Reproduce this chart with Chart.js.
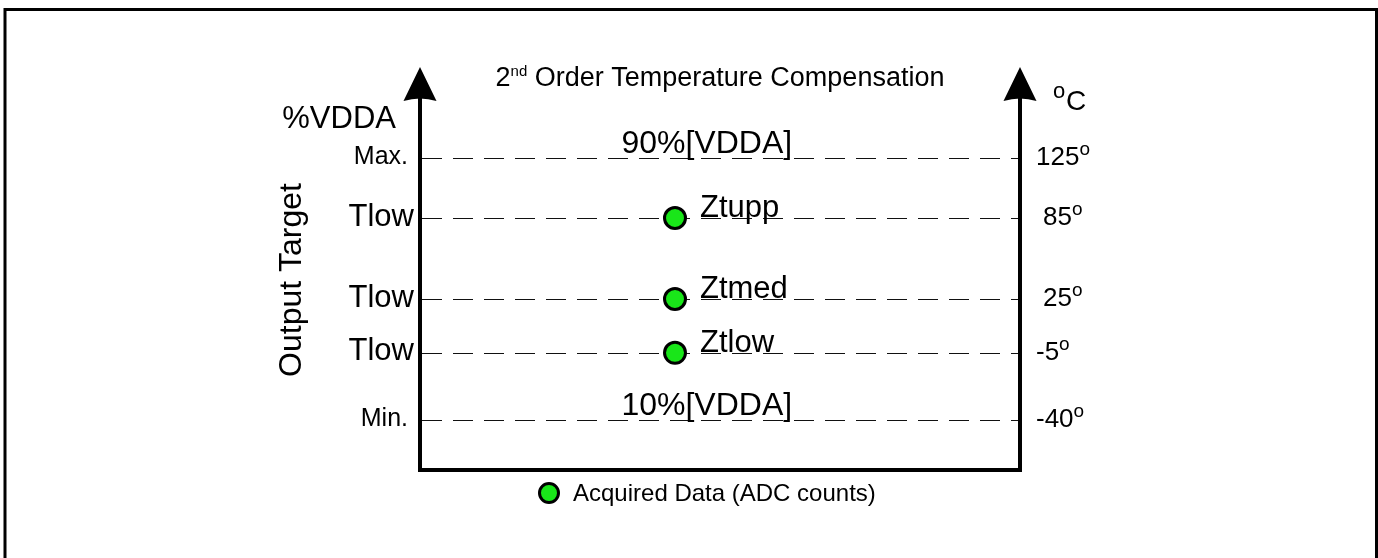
<!DOCTYPE html>
<html>
<head>
<meta charset="utf-8">
<script src="https://cdn.jsdelivr.net/npm/chart.js@4"></script>
<style>
  html, body { margin: 0; padding: 0; background: #fff; }
  #wrap { width: 1378px; height: 558px; }
</style>
</head>
<body>
<div id="wrap"><canvas id="chart" width="1378" height="558"></canvas></div>
<script>
// levels on the output axis, bottom to top
const levelNames = ['Min.', 'Tlow', 'Tlow', 'Tlow', 'Max.'];
const tempLabels = ['-40', '-5', '25', '85', '125'];
const levelValues = [12.5, 29.3, 42.75, 63, 78];   // % of axis height

// acquired data points
const pointNames = ['Ztlow', 'Ztmed', 'Ztupp'];
const pointX = [42.5, 42.5, 42.5];
const pointY = [29.3, 42.75, 63];

// VDDA range labels
const rangeLabels = ['10%[VDDA]', '90%[VDDA]'];
const rangeY = [12.5, 78];
const rangeX = 47.8;

const FONT = '"Liberation Sans", Arial, Helvetica, sans-serif';
const GREEN = '#19e619';

function font(size) {
    return size + 'px ' + FONT;
}

// draws the axes, arrows, dashed levels and all text of the diagram
const diagram = {
    id: 'diagram',
    beforeDatasetsDraw(chart) {
        const ctx = chart.ctx;
        const { left, right, top, bottom } = chart.chartArea;
        const y = chart.scales.y;
        ctx.save();
        ctx.strokeStyle = '#000';
        ctx.fillStyle = '#000';

        // outer frame (no bottom edge)
        ctx.lineWidth = 3;
        ctx.beginPath();
        ctx.moveTo(5, 558);
        ctx.lineTo(5, 9.5);
        ctx.lineTo(1376.5, 9.5);
        ctx.lineTo(1376.5, 558);
        ctx.stroke();

        // dashed level lines
        ctx.lineWidth = 1.2;
        ctx.strokeStyle = '#111';
        ctx.setLineDash([20, 11]);
        levelValues.forEach(v => {
            const py = Math.round(y.getPixelForValue(v)) + 0.5;
            ctx.beginPath();
            ctx.moveTo(left + 2, py);
            ctx.lineTo(right - 2, py);
            ctx.stroke();
        });
        ctx.setLineDash([]);

        // axes
        ctx.strokeStyle = '#000';
        ctx.lineWidth = 4;
        ctx.lineJoin = 'miter';
        ctx.beginPath();
        ctx.moveTo(left, top + 25);
        ctx.lineTo(left, bottom);
        ctx.lineTo(right, bottom);
        ctx.lineTo(right, top + 25);
        ctx.stroke();

        // arrow heads
        [left, right].forEach(ax => {
            ctx.beginPath();
            ctx.moveTo(ax, top - 3);
            ctx.lineTo(ax - 16.5, top + 31);
            ctx.quadraticCurveTo(ax, top + 26, ax + 16.5, top + 31);
            ctx.closePath();
            ctx.fill();
        });
        ctx.restore();
    },
    afterDraw(chart) {
        const ctx = chart.ctx;
        const { left, right, top, bottom } = chart.chartArea;
        const x = chart.scales.x;
        const y = chart.scales.y;
        ctx.save();
        ctx.fillStyle = '#000';

        // title with superscript
        ctx.textBaseline = 'alphabetic';
        ctx.textAlign = 'left';
        ctx.font = font(27);
        const t1 = '2', t3 = ' Order Temperature Compensation';
        const w1 = ctx.measureText(t1).width;
        const w3 = ctx.measureText(t3).width;
        ctx.font = font(15);
        const w2 = ctx.measureText('nd').width;
        let tx = 720 - (w1 + w2 + w3) / 2;
        ctx.font = font(27);
        ctx.fillText(t1, tx, 86);
        ctx.font = font(15);
        ctx.fillText('nd', tx + w1, 76);
        ctx.font = font(27);
        ctx.fillText(t3, tx + w1 + w2, 86);

        // left axis labels
        ctx.textAlign = 'right';
        ctx.textBaseline = 'middle';
        ctx.font = font(31);
        ctx.fillText('%VDDA', 396, 119);
        levelValues.forEach((v, i) => {
            const py = y.getPixelForValue(v);
            const name = levelNames[i];
            if (name === 'Tlow') {
                ctx.font = font(31);
                ctx.fillText(name, left - 6, py - 1);
            } else {
                ctx.font = font(25);
                ctx.fillText(name, left - 12, py - 1);
            }
        });

        // rotated axis title
        ctx.save();
        ctx.translate(292, 280);
        ctx.rotate(-Math.PI / 2);
        ctx.textAlign = 'center';
        ctx.font = font(32);
        ctx.fillText('Output Target', 0, 0);
        ctx.restore();

        // right axis labels (degrees), two-digit ones sit a bit further in
        ctx.textAlign = 'left';
        levelValues.forEach((v, i) => {
            const py = y.getPixelForValue(v);
            const s = tempLabels[i];
            const lx = right + (s.length === 2 && s[0] !== '-' ? 23 : 16);
            ctx.textBaseline = 'middle';
            ctx.font = font(26);
            ctx.fillText(s, lx, py);
            const w = ctx.measureText(s).width;
            ctx.font = font(19);
            ctx.textBaseline = 'alphabetic';
            ctx.fillText('o', lx + w, py - 3);
        });
        ctx.textBaseline = 'alphabetic';
        ctx.font = font(22);
        ctx.fillText('o', 1053, 98);
        ctx.font = font(28);
        ctx.fillText('C', 1066, 110);

        // point names sitting on the dashed lines
        const meta = chart.getDatasetMeta(0);
        ctx.font = font(31);
        meta.data.forEach((pt, i) => {
            ctx.fillText(pointNames[i], pt.x + 25, pt.y - 1);
        });

        // VDDA range labels
        ctx.textAlign = 'center';
        ctx.font = font(32);
        rangeLabels.forEach((s, i) => {
            ctx.fillText(s, x.getPixelForValue(rangeX), y.getPixelForValue(rangeY[i]) - 5);
        });

        // legend
        const ds = chart.data.datasets[0];
        ctx.beginPath();
        ctx.arc(549, 493, 9.5, 0, Math.PI * 2);
        ctx.fillStyle = ds.backgroundColor;
        ctx.fill();
        ctx.lineWidth = 3;
        ctx.strokeStyle = '#000';
        ctx.stroke();
        ctx.fillStyle = '#000';
        ctx.textAlign = 'left';
        ctx.textBaseline = 'middle';
        ctx.font = font(24);
        ctx.fillText(ds.label, 573, 494);
        ctx.restore();
    }
};

const ctx = document.getElementById('chart').getContext('2d');
const chart = new Chart(ctx, {
    type: 'scatter',
    data: {
        datasets: [{
            label: 'Acquired Data (ADC counts)',
            data: pointX.map((v, i) => ({ x: v, y: pointY[i] })),
            backgroundColor: GREEN,
            borderColor: '#000',
            pointRadius: 10.5,
            pointHoverRadius: 10.5,
            pointBorderWidth: 3,
            pointHoverBorderWidth: 3
        }]
    },
    options: {
        responsive: false,
        animation: false,
        devicePixelRatio: 1,
        layout: {
            padding: { left: 420, right: 358, top: 70, bottom: 88 }
        },
        scales: {
            x: { type: 'linear', min: 0, max: 100, display: false },
            y: { type: 'linear', min: 0, max: 100, display: false }
        },
        plugins: {
            legend: { display: false },
            tooltip: { enabled: false }
        },
        events: []
    },
    plugins: [diagram]
});
</script>
</body>
</html>
